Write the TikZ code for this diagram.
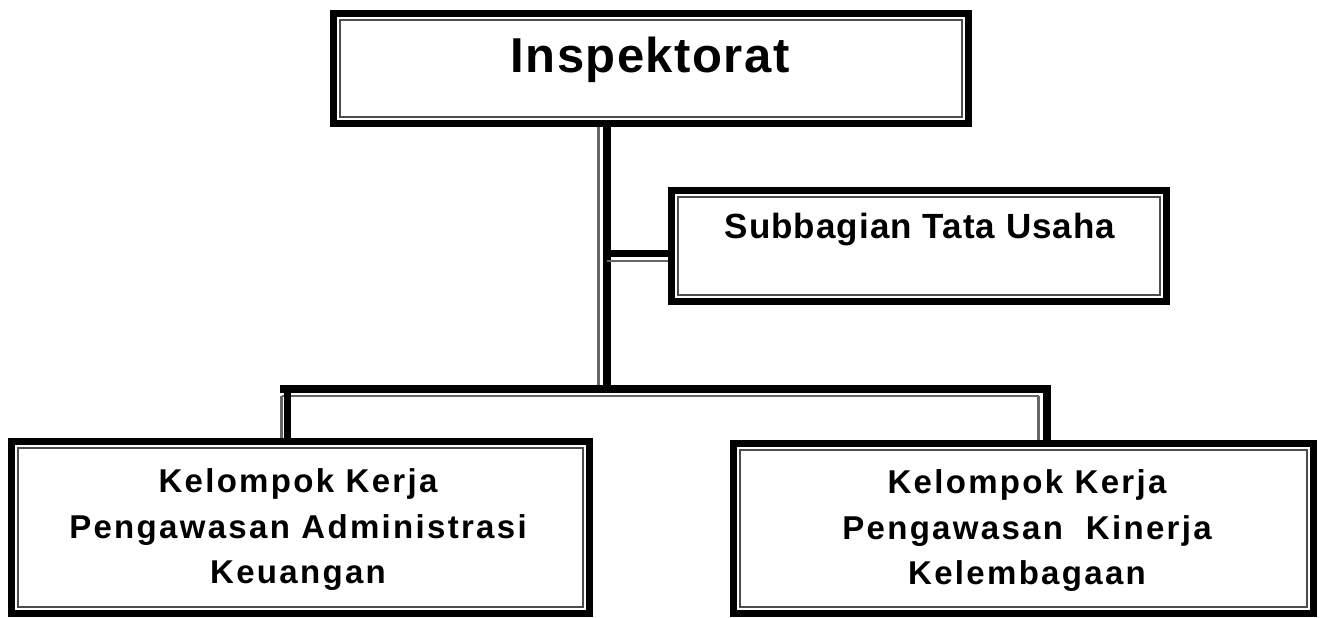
\documentclass[tikz,border=0pt]{standalone}
\usepackage{fontspec}
\setmainfont{Liberation Sans}
\usetikzlibrary{calc}
\tikzset{
  outerbox/.style={draw=black, line width=7pt, inner sep=0pt, rectangle},
  innerline/.style={draw=black!70, line width=2.4pt},
  thickline/.style={draw=black, line width=7.5pt},
  thinline/.style={draw=black!60, line width=2.4pt},
  lbl/.style={inner sep=0pt, align=center, anchor=base},
}
\newcommand{\innerframe}[1]{\draw[innerline] ($(#1.north west)+(10,10)$) rectangle ($(#1.south east)+(-10,-10)$);}
\begin{document}
\begin{tikzpicture}[x=1pt,y=-1pt]
\useasboundingbox[fill=white] (0,0) rectangle (1320,618);
% boxes
\node[outerbox, minimum width=635pt, minimum height=110pt] (insp) at (651,68.5) {};
\node[outerbox, minimum width=495pt, minimum height=111pt] (subb) at (919,246) {};
\node[outerbox, minimum width=578pt, minimum height=172pt] (left) at (300.5,527.5) {};
\node[outerbox, minimum width=580pt, minimum height=170pt] (right) at (1023.5,528.5) {};
\innerframe{insp}
\innerframe{subb}
\innerframe{left}
\innerframe{right}
% junction coordinates
\coordinate (trunk) at (607,389);
\coordinate (trunkthin) at (598.5,396);
\coordinate (branch) at (607,253.5);
\coordinate (branchthin) at (607,261);
\coordinate (ldrop) at (287.5,389);
\coordinate (ldropthin) at (281.5,396);
\coordinate (rdrop) at (1047,389);
\coordinate (rdropthin) at (1038.5,396);
% main trunk
\draw[thinline] (trunkthin |- insp.south) -- (trunkthin |- trunk);
\draw[thickline] (trunk |- insp.south) -- (trunk);
% branch to Subbagian
\draw[thinline] (branchthin) -- (branchthin -| subb.west);
\draw[thickline] ($(branch)+(-3.75,0)$) -- (branch -| subb.west);
% horizontal bar
\draw[thinline] (ldropthin |- trunkthin) -- ($(rdropthin |- trunkthin)$);
\draw[thickline] ($(ldropthin |- trunk)+(-1.2,0)$) -- ($(rdrop)+(3.75,0)$);
% drops
\draw[thinline] (ldropthin) -- (ldropthin |- left.north);
\draw[thickline] ($(ldrop)+(0,-3.75)$) -- (ldrop |- left.north);
\draw[thinline] (rdropthin) -- (rdropthin |- right.north);
\draw[thickline] ($(rdrop)+(0,-3.75)$) -- (rdrop |- right.north);
% texts
\node[lbl, font={\fontsize{49}{55}\bfseries\addfontfeature{LetterSpace=3}}] (tinsp) at (650,73) {Inspektorat};
\node[lbl, font={\fontsize{35}{40}\bfseries\addfontfeature{LetterSpace=3}}] (tsubb) at (920,238) {Subbagian Tata Usaha};
\node[lbl, font={\fontsize{33}{45.5}\selectfont\bfseries\addfontfeature{LetterSpace=7}}] (tleft) at (298,583.5) {Kelompok Kerja\\Pengawasan Administrasi\\Keuangan};
\node[lbl, font={\fontsize{33}{45.5}\selectfont\bfseries\addfontfeature{LetterSpace=7}}] (tright) at (1027,584.5) {Kelompok Kerja\\Pengawasan~ Kinerja\\Kelembagaan};
\end{tikzpicture}
\end{document}
